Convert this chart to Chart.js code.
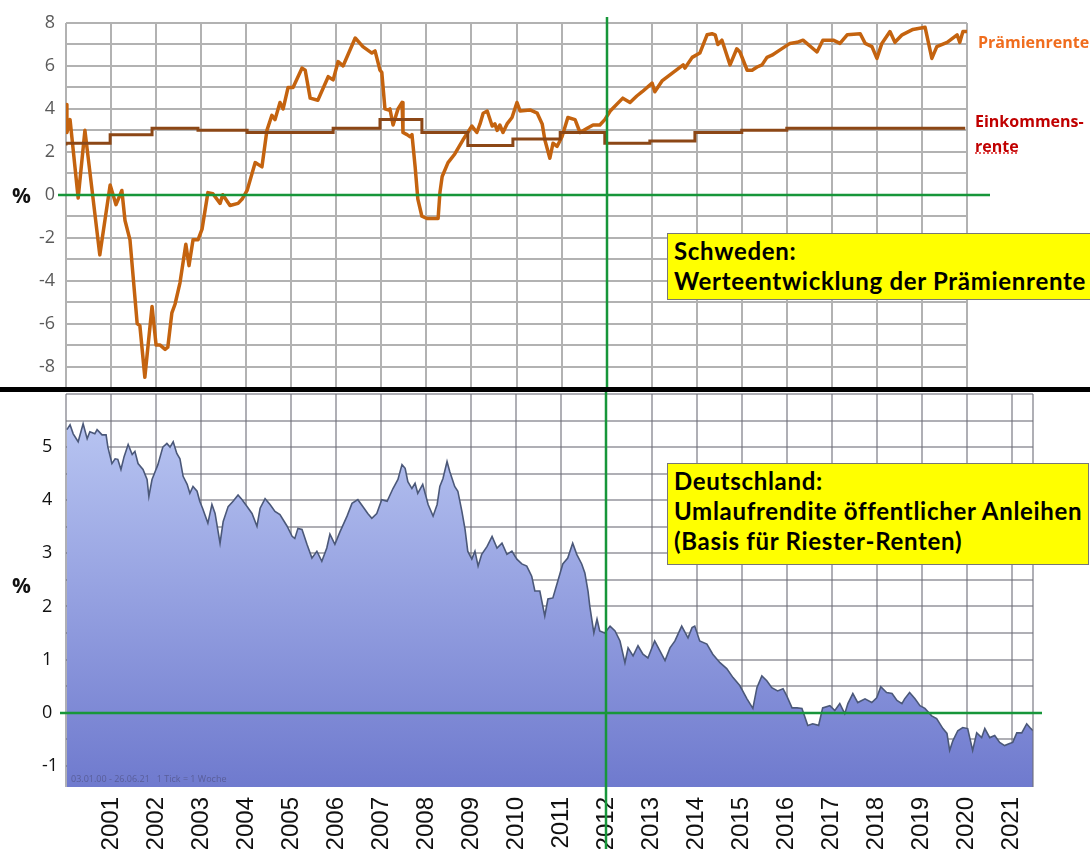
<!DOCTYPE html>
<html lang="de">
<head>
<meta charset="utf-8">
<title>Prämienrente und Umlaufrendite</title>
<script src="https://cdn.jsdelivr.net/npm/chart.js@4.4.1/dist/chart.umd.min.js"></script>
<style>
  html, body { margin: 0; padding: 0; background: #fff; }
  #wrap { position: relative; width: 1090px; height: 849px; overflow: hidden; font-family: "Open Sans", sans-serif; }
  canvas { position: absolute; left: 0; }
  #oben { top: 0; }
  #unten { top: 392px; }
  .trenner { position: absolute; left: 0; top: 387px; width: 1090px; height: 5px; background: #000; }
  .prozent { position: absolute; left: 12px; font-weight: bold; font-size: 21px; line-height: 24px; color: #111; }
  .kasten { position: absolute; left: 667px; box-sizing: border-box; background: #ffff00;
            border: 1px solid #777; padding: 2px 0 0 6px; font-family: Lato, sans-serif; font-weight: bold;
            font-size: 24px; letter-spacing: 0.7px; line-height: 30px; color: #000; white-space: nowrap; }
  .legende { position: absolute; font-weight: bold; font-size: 16px; line-height: 22px; white-space: nowrap; }
  .fuss { position: absolute; left: 71px; top: 772px; font-size: 9px; color: rgba(70, 70, 110, 0.55); white-space: nowrap; }
</style>
</head>
<body>
<div id="wrap">
  <canvas id="oben" width="1090" height="388"></canvas>
  <canvas id="unten" width="1090" height="457"></canvas>
  <div class="trenner"></div>

  <div class="prozent" style="top:183px">%</div>
  <div class="prozent" style="top:573px">%</div>

  <div class="legende" style="left:978px; top:31px; color:#f06d1e">Prämienrente</div>
  <div class="legende" style="left:975px; top:110px; color:#c00000">Einkommens-</div>
  <div class="legende" style="left:975px; top:135px; color:#c00000"><span style="text-decoration: underline dotted #e03030">rente</span></div>

  <div class="kasten" style="top:233px; width:440px; height:67px">Schweden:<br>Werteentwicklung der Prämienrente</div>
  <div class="kasten" style="top:463px; width:422px; height:102px">Deutschland:<br>Umlaufrendite öffentlicher Anleihen<br>(Basis für Riester-Renten)</div>

  <div class="fuss">03.01.00 - 26.06.21&nbsp;&nbsp;&nbsp;1 Tick = 1 Woche</div>
</div>

<script>
// Schweden: Prämienrente (Werteentwicklung in %)
const praemienJahre = [
  2000.00, 2000.02, 2000.09, 2000.27, 2000.42, 2000.75, 2000.98, 2001.11, 2001.24, 2001.31,
  2001.42, 2001.58, 2001.64, 2001.75, 2001.91, 2002.00, 2002.09, 2002.20, 2002.26, 2002.35,
  2002.42, 2002.53, 2002.66, 2002.73, 2002.82, 2002.93, 2003.02, 2003.15, 2003.26, 2003.42,
  2003.48, 2003.64, 2003.82, 2003.91, 2004.02, 2004.20, 2004.35, 2004.46, 2004.57, 2004.64,
  2004.75, 2004.82, 2004.93, 2005.04, 2005.24, 2005.31, 2005.42, 2005.59, 2005.82, 2005.93,
  2006.04, 2006.15, 2006.42, 2006.59, 2006.79, 2006.86, 2006.97, 2007.01, 2007.08, 2007.15,
  2007.19, 2007.26, 2007.37, 2007.46, 2007.48, 2007.57, 2007.64, 2007.68, 2007.75, 2007.81,
  2007.90, 2008.01, 2008.12, 2008.26, 2008.30, 2008.35, 2008.48, 2008.63, 2008.81, 2009.01,
  2009.12, 2009.19, 2009.26, 2009.35, 2009.46, 2009.52, 2009.57, 2009.63, 2009.70, 2009.79,
  2009.90, 2010.01, 2010.08, 2010.30, 2010.46, 2010.57, 2010.63, 2010.74, 2010.81, 2010.90,
  2011.01, 2011.14, 2011.30, 2011.41, 2011.57, 2011.70, 2011.85, 2011.96, 2012.08, 2012.36,
  2012.52, 2012.67, 2012.79, 2013.01, 2013.07, 2013.23, 2013.45, 2013.70, 2013.74, 2013.90,
  2014.07, 2014.23, 2014.34, 2014.41, 2014.47, 2014.56, 2014.74, 2014.89, 2014.96, 2015.12,
  2015.23, 2015.34, 2015.45, 2015.56, 2015.67, 2015.85, 2016.07, 2016.23, 2016.36, 2016.67,
  2016.80, 2017.03, 2017.18, 2017.34, 2017.63, 2017.74, 2017.89, 2018.00, 2018.11, 2018.29,
  2018.40, 2018.56, 2018.80, 2019.07, 2019.22, 2019.33, 2019.56, 2019.78, 2019.84, 2019.91,
  2020.00
];
const praemienWerte = [
  4.2, 2.9, 3.5, -0.15, 3.0, -2.8, 0.45, -0.46, 0.2, -1.2,
  -2.1, -6.0, -6.1, -8.5, -5.2, -7.0, -7.0, -7.2, -7.1, -5.5,
  -5.1, -4.1, -2.3, -3.3, -2.1, -2.1, -1.6, 0.1, 0.05, -0.4,
  0.0, -0.5, -0.4, -0.2, 0.2, 1.5, 1.3, 3.0, 3.7, 3.5,
  4.3, 4.0, 5.0, 5.0, 5.9, 5.8, 4.5, 4.4, 5.5, 5.35,
  6.2, 6.0, 7.3, 6.9, 6.6, 6.7, 5.8, 5.7, 4.0, 3.95,
  4.0, 3.25, 4.0, 4.3, 2.9, 2.8, 2.7, 2.8, 1.3, -0.2,
  -1.0, -1.1, -1.1, -1.1, 0.1, 0.85, 1.5, 1.9, 2.55, 3.2,
  2.9, 3.3, 3.8, 3.9, 3.2, 3.3, 3.0, 3.25, 2.9, 3.3,
  3.6, 4.3, 3.9, 3.95, 3.8, 3.3, 2.55, 1.7, 2.4, 2.25,
  2.7, 3.6, 3.5, 2.9, 3.1, 3.25, 3.25, 3.5, 3.9, 4.5,
  4.3, 4.6, 4.8, 5.2, 4.8, 5.3, 5.65, 6.05, 5.9, 6.4,
  6.6, 7.45, 7.5, 7.45, 7.0, 7.2, 6.05, 6.8, 6.65, 5.8,
  5.8, 5.95, 6.05, 6.4, 6.5, 6.75, 7.05, 7.1, 7.2, 6.65,
  7.2, 7.2, 7.05, 7.45, 7.5, 7.05, 6.9, 6.35, 7.05, 7.6,
  7.1, 7.45, 7.7, 7.8, 6.35, 6.9, 7.1, 7.45, 7.1, 7.6,
  7.6
];

// Schweden: Einkommensrente (Stufen, Wert gilt ab dem Jahr)
const einkommenJahre = [2000.0, 2000.98, 2001.91, 2002.93, 2004.02, 2005.93, 2006.97, 2007.90, 2008.92,
  2009.92, 2010.97, 2011.96, 2012.96, 2013.96, 2015.0, 2016.0, 2019.0, 2019.96];
const einkommenWerte = [2.3, 2.4, 2.8, 3.1, 3.0, 2.9, 3.1, 3.5, 2.9,
  2.3, 2.6, 2.9, 2.4, 2.5, 2.9, 3.0, 3.1, 3.1];

// Deutschland: Umlaufrendite öffentlicher Anleihen in %
const umlaufJahre = [
  2000.02, 2000.09, 2000.16, 2000.27, 2000.38, 2000.47, 2000.53, 2000.64, 2000.69, 2000.80,
  2000.89, 2000.93, 2001.02, 2001.09, 2001.15, 2001.22, 2001.29, 2001.38, 2001.47, 2001.53,
  2001.60, 2001.71, 2001.80, 2001.84, 2001.91, 2001.98, 2002.04, 2002.15, 2002.24, 2002.31,
  2002.38, 2002.46, 2002.53, 2002.60, 2002.69, 2002.75, 2002.82, 2002.91, 2002.97, 2003.04,
  2003.15, 2003.24, 2003.31, 2003.42, 2003.49, 2003.60, 2003.71, 2003.82, 2003.91, 2004.02,
  2004.13, 2004.24, 2004.31, 2004.42, 2004.53, 2004.64, 2004.75, 2004.91, 2005.02, 2005.08,
  2005.15, 2005.24, 2005.35, 2005.46, 2005.57, 2005.68, 2005.79, 2005.86, 2005.97, 2006.08,
  2006.24, 2006.35, 2006.48, 2006.59, 2006.70, 2006.79, 2006.90, 2007.01, 2007.13, 2007.26,
  2007.37, 2007.46, 2007.53, 2007.59, 2007.68, 2007.75, 2007.81, 2007.92, 2008.04, 2008.15,
  2008.24, 2008.30, 2008.37, 2008.46, 2008.52, 2008.63, 2008.70, 2008.79, 2008.86, 2008.92,
  2009.01, 2009.08, 2009.15, 2009.23, 2009.35, 2009.46, 2009.57, 2009.68, 2009.79, 2009.90,
  2010.01, 2010.12, 2010.23, 2010.34, 2010.41, 2010.52, 2010.63, 2010.70, 2010.81, 2010.92,
  2011.03, 2011.14, 2011.25, 2011.34, 2011.45, 2011.52, 2011.59, 2011.63, 2011.72, 2011.79,
  2011.85, 2011.96, 2012.08, 2012.19, 2012.30, 2012.41, 2012.48, 2012.59, 2012.70, 2012.81,
  2012.92, 2013.07, 2013.19, 2013.30, 2013.41, 2013.52, 2013.67, 2013.81, 2013.90, 2013.96,
  2014.07, 2014.23, 2014.36, 2014.52, 2014.67, 2014.81, 2014.96, 2015.12, 2015.25, 2015.34,
  2015.45, 2015.56, 2015.67, 2015.80, 2015.92, 2016.00, 2016.12, 2016.23, 2016.34, 2016.47,
  2016.58, 2016.71, 2016.80, 2016.96, 2017.07, 2017.18, 2017.29, 2017.36, 2017.47, 2017.58,
  2017.74, 2017.89, 2018.00, 2018.09, 2018.22, 2018.34, 2018.45, 2018.56, 2018.62, 2018.73,
  2018.85, 2018.96, 2019.07, 2019.22, 2019.33, 2019.47, 2019.56, 2019.62, 2019.69, 2019.80,
  2019.91, 2020.02, 2020.13, 2020.22, 2020.33, 2020.40, 2020.51, 2020.62, 2020.73, 2020.84,
  2020.95, 2021.02, 2021.11, 2021.22, 2021.33, 2021.40, 2021.47
];
const umlaufWerte = [
  5.33, 5.42, 5.25, 5.1, 5.44, 5.16, 5.29, 5.25, 5.33, 5.23,
  5.23, 5.0, 4.69, 4.78, 4.77, 4.58, 4.82, 5.05, 4.86, 4.92,
  4.69, 4.58, 4.39, 4.07, 4.39, 4.54, 4.67, 5.0, 5.07, 5.0,
  5.1, 4.88, 4.78, 4.45, 4.3, 4.13, 4.26, 4.17, 3.98, 3.83,
  3.57, 3.92, 3.75, 3.19, 3.6, 3.88, 3.98, 4.1, 4.01, 3.88,
  3.75, 3.51, 3.85, 4.03, 3.92, 3.79, 3.73, 3.51, 3.32, 3.28,
  3.47, 3.45, 3.17, 2.91, 3.04, 2.85, 3.1, 3.36, 3.17, 3.4,
  3.7, 3.94, 4.01, 3.88, 3.75, 3.66, 3.75, 4.01, 3.98, 4.22,
  4.39, 4.67, 4.6, 4.35, 4.22, 4.32, 4.13, 4.3, 3.92, 3.7,
  3.92, 4.26, 4.41, 4.73, 4.54, 4.26, 4.17, 3.79, 3.45, 3.04,
  2.89, 3.04, 2.76, 2.98, 3.13, 3.32, 3.1, 3.19, 2.98, 3.04,
  2.89, 2.8, 2.76, 2.57, 2.29, 2.29, 1.82, 2.14, 2.16, 2.48,
  2.8, 2.91, 3.19, 2.98, 2.8, 2.63, 2.29, 2.0, 1.5, 1.76,
  1.54, 1.5, 1.63, 1.54, 1.35, 0.94, 1.22, 1.07, 1.26, 1.1,
  1.03, 1.35, 1.16, 0.98, 1.22, 1.35, 1.63, 1.41, 1.6, 1.63,
  1.35, 1.29, 1.1, 0.94, 0.83, 0.66, 0.51, 0.26, 0.08, 0.47,
  0.69, 0.6, 0.47, 0.41, 0.45, 0.32, 0.09, 0.09, 0.08, -0.24,
  -0.21, -0.24, 0.09, 0.13, 0.04, 0.17, -0.02, 0.17, 0.36, 0.19,
  0.26, 0.19, 0.28, 0.49, 0.38, 0.36, 0.23, 0.17, 0.26, 0.38,
  0.26, 0.13, 0.08, -0.06, -0.11, -0.3, -0.39, -0.71, -0.53, -0.34,
  -0.28, -0.3, -0.71, -0.38, -0.47, -0.3, -0.47, -0.43, -0.56, -0.62,
  -0.58, -0.56, -0.38, -0.38, -0.21, -0.28, -0.34
];

// Achsenbeschriftungen
const jahresLabels = [2001, 2002, 2003, 2004, 2005, 2006, 2007, 2008, 2009, 2010, 2011,
  2012, 2013, 2014, 2015, 2016, 2017, 2018, 2019, 2020, 2021];
const schwedenTicks = [-8, -6, -4, -2, 0, 2, 4, 6, 8];
const deutschTicks = [-1, 0, 1, 2, 3, 4, 5];

const zuPunkten = (xs, ys) => xs.map((x, i) => ({ x, y: ys[i] }));

Chart.defaults.font.family = '"Open Sans", sans-serif';
Chart.defaults.animation = false;

// grüne Linien bei 0 % und beim Jahr 2012
const gruenLinien = {
  id: 'gruenLinien',
  afterDraw(chart, args, opts) {
    const { ctx, chartArea, scales } = chart;
    const y0 = Math.round(scales.y.getPixelForValue(0));
    const x12 = Math.round(scales.x.getPixelForValue(2012));
    ctx.save();
    if (opts.rahmen) {
      ctx.strokeStyle = 'rgba(110,110,120,0.55)';
      ctx.lineWidth = 2;
      ctx.beginPath();
      ctx.moveTo(chartArea.right, chartArea.top);
      ctx.lineTo(chartArea.right, chartArea.bottom);
      ctx.stroke();
    }
    ctx.strokeStyle = '#17963a';
    ctx.lineWidth = 2.5;
    ctx.beginPath();
    ctx.moveTo(chartArea.left - opts.links, y0);
    ctx.lineTo(chartArea.right + opts.rechts, y0);
    ctx.moveTo(x12, opts.oben);
    ctx.lineTo(x12, chart.height);
    ctx.stroke();
    ctx.restore();
  }
};

function keinRand(scale) {
  scale.paddingTop = 0;
  scale.paddingBottom = 0;
  scale.paddingLeft = 0;
  scale.paddingRight = 0;
}

new Chart(document.getElementById('oben'), {
  type: 'line',
  data: {
    datasets: [
      {
        label: 'Einkommensrente',
        data: zuPunkten(einkommenJahre, einkommenWerte),
        borderColor: '#8c4716',
        borderWidth: 3,
        stepped: 'after',
        pointRadius: 0
      },
      {
        label: 'Prämienrente',
        data: zuPunkten(praemienJahre, praemienWerte),
        borderColor: '#c4630f',
        borderWidth: 3.5,
        borderJoinStyle: 'round',
        pointRadius: 0,
        tension: 0
      }
    ]
  },
  options: {
    responsive: false,
    layout: { padding: { left: 0, top: 23, right: 123, bottom: 0 } },
    plugins: {
      legend: { display: false },
      tooltip: { enabled: false },
      gruenLinien: { links: 8, rechts: 23, oben: 17 }
    },
    scales: {
      x: {
        type: 'linear',
        min: 2000,
        max: 2020,
        ticks: { display: false, stepSize: 1, autoSkip: false },
        grid: { color: '#b2b2b2', lineWidth: 2, drawTicks: false },
        border: { display: false },
        afterFit(scale) { scale.height = 0; keinRand(scale); }
      },
      y: {
        min: -9,
        max: 8,
        ticks: {
          stepSize: 1,
          autoSkip: false,
          padding: 11,
          color: '#5a5a5a',
          font: { size: 18 },
          callback: v => schwedenTicks.includes(v) ? String(v) : ''
        },
        grid: { color: '#b2b2b2', lineWidth: 2, drawTicks: false },
        border: { display: false },
        afterFit(scale) { scale.width = 66; keinRand(scale); }
      }
    }
  },
  plugins: [gruenLinien]
});

new Chart(document.getElementById('unten'), {
  type: 'line',
  data: {
    datasets: [{
      label: 'Umlaufrendite',
      data: zuPunkten(umlaufJahre, umlaufWerte),
      borderColor: '#4b5879',
      borderWidth: 1.6,
      pointRadius: 0,
      tension: 0,
      fill: 'start',
      backgroundColor: (context) => {
        const { chart } = context;
        const area = chart.chartArea;
        if (!area) return '#8d9be4';
        const verlauf = chart.ctx.createLinearGradient(0, area.top, 0, area.bottom);
        verlauf.addColorStop(0, '#bdcaf4');
        verlauf.addColorStop(1, '#6f7ace');
        return verlauf;
      }
    }]
  },
  options: {
    responsive: false,
    layout: { padding: { left: 42, top: 2, right: 57, bottom: 0 } },
    plugins: {
      legend: { display: false },
      tooltip: { enabled: false },
      gruenLinien: { links: 6, rechts: 9, oben: 0, rahmen: true }
    },
    scales: {
      x: {
        type: 'linear',
        min: 2000,
        max: 2021.47,
        z: 1,
        ticks: {
          stepSize: 1,
          includeBounds: false,
          autoSkip: false,
          minRotation: 90,
          maxRotation: 90,
          padding: 10,
          color: '#111',
          font: { family: '"Liberation Sans", Arial, sans-serif', size: 24 },
          callback: v => jahresLabels.includes(v) ? String(v) : ''
        },
        grid: { color: 'rgba(110,110,120,0.55)', lineWidth: 2, drawTicks: false },
        border: { display: false },
        afterFit(scale) { scale.height = 62; keinRand(scale); }
      },
      y: {
        min: -1.4,
        max: 6,
        z: 1,
        ticks: {
          stepSize: 0.5,
          includeBounds: false,
          autoSkip: false,
          crossAlign: 'far',
          color: '#111',
          font: { size: 18 },
          callback: v => deutschTicks.includes(v) ? String(v) : ''
        },
        grid: { color: 'rgba(110,110,120,0.55)', lineWidth: 2, drawTicks: false },
        border: { display: false },
        afterFit(scale) { scale.width = 24; keinRand(scale); }
      }
    }
  },
  plugins: [gruenLinien]
});
</script>
</body>
</html>
